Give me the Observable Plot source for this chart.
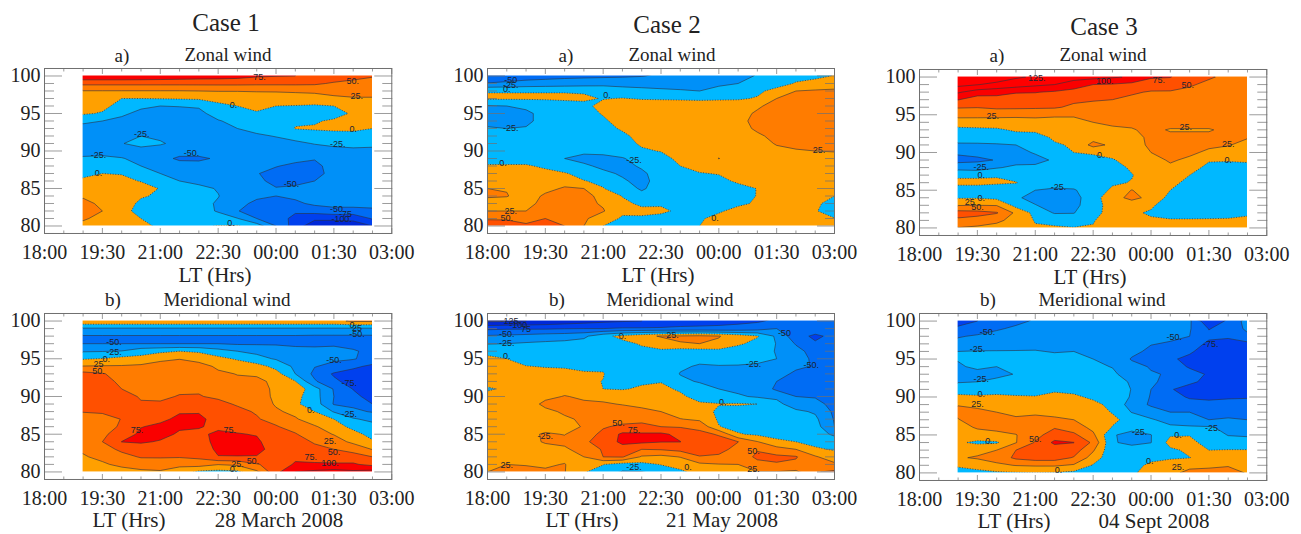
<!DOCTYPE html>
<html><head><meta charset="utf-8">
<script src="https://cdn.jsdelivr.net/npm/d3@7"></script>
<script src="https://cdn.jsdelivr.net/npm/@observablehq/plot@0.6"></script>
<style>
html,body{margin:0;padding:0;background:#fff;}
#page{position:relative;width:1301px;height:534px;overflow:hidden;font-family:"Liberation Serif",serif;color:#222;}
#page>div.t{position:absolute;transform:translate(-50%,-50%);white-space:nowrap;}
#page>div.p{position:absolute;}
svg{display:block;}
</style></head><body><div id="page"></div>
<script>
// altitude rows run 100 -> 80 km; columns every 30 min
const levels = [-200,-125,-100,-75,-50,-25,0,25,50,75,100,125];
const levelColors = ["#0018b0","#0028d8","#0040ee","#006cf4","#0090f8","#00b8ff","#ffa000","#ff7c00","#ff5000","#fa0000","#ff0000","#ff0000"];
const tickHours = [18,19.5,21,22.5,24,25.5,27];
const tickLabels = ["18:00","19:30","21:00","22:30","00:00","01:30","03:00"];
const altTicks = [80,85,90,95,100];

const case1Zonal = [
95,95,95,94,92,90,88,87,84,78,76,75,70,65,58,52,
56,56,56,56,56,56,56,56,56,55,55,55,54,47,43,40,
24,24,24,24,24,24,25,26,26,27,27,28,29,30,30,30,
18,15,0,0,1,2,3,4,6,8,12,14,16,22,24,24,
12,6,-8,-20,-25,-24,-22,-3,0,5,0,-1,-3,0,8,12,
3,-2,-20,-32,-34,-34,-32,-14,-8,-2,-8,-8,-10,-8,3,10,
-22,-25,-32,-33,-33,-33,-32,-27,-17,-10,-12,-3,-2,3,5,6,
-30,-32,-32,-30,-33,-33,-33,-33,-25,-19,-17,1,2,3,3,0,
-33,-33,-32,-25,-30,-33,-33,-34,-32,-28,-24,-18,-8,-6,-5,-10,
-36,-36,-26,-18,-22,-33,-35,-36,-38,-38,-32,-29,-24,-20,-18,-18,
-33,-30,-33,-33,-38,-40,-40,-42,-40,-40,-38,-36,-34,-32,-30,-32,
-22,-22,-24,-30,-42,-54,-54,-47,-42,-42,-44,-45,-49,-42,-36,-36,
-12,-10,-12,-25,-32,-40,-42,-42,-42,-44,-49,-54,-54,-44,-38,-38,
-5,0,-1,-12,-25,-36,-36,-36,-40,-49,-56,-58,-56,-44,-40,-40,
4,6,5,-1,-15,-25,-32,-32,-38,-46,-55,-56,-50,-43,-40,-40,
10,10,8,8,-1,-18,-18,-27,-40,-42,-49,-46,-44,-42,-40,-40,
22,12,10,2,-3,-14,-16,-24,-40,-45,-50,-45,-40,-38,-38,-38,
32,20,10,-4,-10,-14,-16,-28,-42,-56,-58,-55,-45,-42,-42,-42,
36,25,8,-8,-12,-15,-16,-27,-49,-60,-62,-70,-65,-58,-58,-55,
28,18,6,0,-10,-12,-12,-15,-24,-50,-58,-85,-95,-95,-95,-72,
18,12,10,6,-4,-8,-3,1,2,-12,-50,-88,-115,-115,-110,-100];

const case2Zonal = [
-62,-62,-60,-58,-56,-55,-54,-53,-51,-46,-42,-38,-34,-29,-24,-14,-8,-4,1,
-49,-46,-42,-40,-38,-36,-35,-34,-34,-34,-34,-32,-29,-25,-18,-10,2,6,10,
-1,-1,-1,-1,-1,-2,-3,-14,-18,-21,-23,-25,-18,-12,-5,8,25,28,30,
3,3,3,3,3,3,-1,1,-2,-3,-4,-5,-4,-3,2,25,32,32,32,
-27,-25,-22,-15,-8,-5,6,12,14,15,15,15,15,14,23,30,33,33,33,
-34,-32,-28,-20,-15,-10,2,14,18,18,18,18,18,20,27,32,34,34,34,
-34,-32,-28,-20,-15,-12,-4,10,14,18,18,18,18,20,30,32,34,34,34,
-22,-25,-24,-18,-15,-12,-8,3,12,15,18,18,18,18,28,32,34,34,34,
-18,-18,-18,-15,-12,-10,-8,-5,8,12,16,18,18,18,22,30,32,32,32,
-15,-15,-15,-14,-12,-10,-10,-8,3,8,14,16,18,18,20,26,28,28,30,
-12,-12,-12,-15,-18,-20,-20,-12,-3,1,10,14,18,16,18,22,24,25,26,
-8,-8,-8,-14,-25,-32,-30,-27,-14,-8,6,14,25.5,14,16,18,18,18,18,
2,2,2,-3,-14,-21,-30,-32,-22,-12,0,6,8,10,12,14,14,14,14,
8,8,8,5,2,-8,-20,-28,-29,-15,-6,-1,1,6,8,10,10,10,10,
12,14,14,16,18,1,-5,-22,-32,-15,-10,-6,-5,3,6,8,8,8,8,
25,24,16,20,27,25,1,-14,-28,-15,-10,-8,-8,-6,0.5,6,6,6,6,
27,26,16,28,32,30,20,-1,-18,-10,-8,-7,-7,-5,0.5,5,5,5,0,
18,16,18,32,34,32,22,5,-4,-2,-5,-6,-5,-3,2,4,4,4,-8,
25,25,25,36,36,33,27,3,5,3,-3,-5,-2,5,5,5,4,2,-12,
48,48,40,50,40,30,8,-2,-3,-5,-5,-2,5,6,6,6,6,5,1,
60,58,55,55,50,25,0,-8,-8,-8,-4,0,6,7,7,7,7,7,6];

const case3Zonal = [
150,150,140,128,122,120,112,108,103,97,78,76,60,52,46,42,
132,126,118,112,105,100,85,75,73,68,62,60,52,46,44,42,
103,88,84,77,76,72,68,60,55,53,48,48,46,44,42,40,
76,62,65,62,64,60,55,52,50,45,42,42,42,42,40,38,
52,51,55,55,54,53,45,42,40,38,36,36,36,36,36,36,
34,33,32,30,30,28,28,27,32,33,33,33,33,33,33,33,
12,13,14,16,18,18,18,25,27,28,30,30,30,30,30,30,
-6,-5,-4,4,5,8,10,15,23,24,28,24,24,24,28,28,
-16,-15,-14,-12,-10,4,6,15,18,20,28,28,28,28,28,26,
-28,-28,-27,-25,-22,-3,3,33,20,18,28,30,30,28,26,20,
-46,-44,-36,-32,-23,-14,0,2,8,14,25,30,28,22,18,12,
-58,-54,-49,-34,-32,-22,-8,-5,-2,10,19,27,22,3,2,3,
-35,-38,-27,-20,-20,-18,-12,-10,-8,3,15,22,12,-8,-8,-6,
-3,-3,-1,-8,-14,-14,-13,-12,-10,-1,10,18,0,-18,-15,-15,
4,4,2,1,-12,-12,-15,-14,-3,1,12,8,-8,-20,-22,-20,
-8,-8,-8,-15,-25,-30,-27,-13,4,26,10,0,-14,-20,-22,-20,
-2,-2,-6,-22,-32,-35,-34,-10,15,32,18,-8,-18,-20,-22,-20,
24,25,24,-8,-24,-34,-33,-8,8,10,4,-14,-18,-20,-20,-18,
60,58,52,20,-8,-27,-26,-5,6,4,-3,-12,-12,-10,-8,-3,
45,40,28,20,-2,-5,-10,-1,8,8,3,3,3,3,3,4,
24,20,20,12,3,2,1,1,10,10,10,9,9,9,9,8];

const case1Merid = [
20,20,20,20,20,20,20,20,20,20,20,20,20,20,28,28,
-28,-28,-28,-28,-28,-28,-28,-28,-28,-28,-28,-28,-28,-28,-28,-28,
-52,-52,-52,-52,-52,-52,-52,-52,-52,-52,-52,-52,-53,-53,-53,-53,
-50,-50,-50,-50,-50,-50,-50,-50,-53,-53,-53,-53,-53,-53,-56,-58,
-27,-26,-24,-10,-5,0,-3,-15,-25,-30,-36,-45,-46,-44,-48,-55,
-2,1,8,8,20,24,15,7,-3,-18,-27,-38,-44,-47,-48,-60,
26,27,27,30,34,38,36,20,14,10,-8,-30,-49,-55,-70,-80,
58,52,40,38,38,40,40,30,24,22,10,-25,-56,-78,-85,-95,
62,60,44,42,42,44,44,38,30,30,20,1,-47,-70,-85,-95,
58,60,50,45,45,47,48,45,35,35,20,16,-15,-52,-76,-90,
58,60,58,48,47,51,51,47,40,37,20,8,-15,-50,-68,-85,
55,56,60,52,52,56,58,55,48,42,22,4,-12,-52,-55,-75,
51,52,60,58,58,73,74,62,55,48,29,18,0,-27,-45,-52,
40,44,50.5,65,70,80,78,70,65,52,42,28,10,0,-22,-32,
35,38,54,74,80,78,76,72,70,62,52,40,28,10,-6,-15,
33,45,62,80,82,72,72,78,76,74,60,52,34,24,8,-8,
33,50,75.5,78,73,66,68,80,80,78,65,58,48,35,20,3,
28,40,55,62,62,58,60,80,82,80,68,62,55,50,40,24,
23,30,42,52,52,52,55,74,74,74,66,70,60,62,62,50,
16,22,30,36,38,30,36,26,30,48,60,78,80,78,78,68,
10,14,16,20,22,15,-5,-8,-5,20,68,100,105,110,105,110];

const case2Merid = [
-130,-128,-125,-120,-115,-110,-105,-102,-100,-92,-88,-85,-82,-80,-78,-70,-65,-60,-58,
-80,-78,-78,-78,-76,-75,-75,-72,-72,-72,-70,-70,-70,-68,-62,-50,-60,-60,-58,
-47,-45,-42,-38,-36,-30,-8,8,18,27,28,30,26,15,2,-30,-65,-80,-68,
-26,-25,-22,-20,-18,-15,-12,-8,3,12,24,25,22,4,-8,-26,-52,-72,-62,
-8,-10,-14,-14,-12,-12,-12,-16,-7,-4,-12,-10,-8,-12,-18,-26,-42,-60,-55,
6,0,-8,-8,-8,-8,-10,-20,-15,-12,-18,-20,-18,-20,-20,-25,-40,-55,-52,
8,8,0.5,-1,-2,-4,-3,-20,-15,-14,-22,-27,-26,-26,-28,-32,-45,-52,-50,
8,10,8,6,6,2,1,-15,-10,-8,-26,-30,-30,-30,-34,-40,-55,-58,-60,
8,12,10,10,14,4,-0.5,-8,-4,-1,-20,-27,-30,-34,-38,-50,-60,-60,-60,
-3,4,12,14,18,12,0,-2,4,5,-3,-15,-25,-30,-32,-55,-56,-58,-60,
8,10,14,20,26,22,20,18,12,14,4,-8,-12,-22,-28,-30,-50,-52,-60,
10,12,14,30,30,28,27,24,22,18,8,3,1,2,0,-18,-38,-42,-58,
12,14,16,20,28,32,34,33,28,25,12,10,-4,-8,-12,-12,-20,-28,-55,
12,14,16,14,22,28,42,42,40,35,26,20,-3,-8,-10,-10,-14,-20,-52,
12,14,16,15,16,27,48,54,60,50,48,44,1,-7,-8,-9,-12,-15,-50,
12,14,18,28,24,40,55,80,78,80,68,56,48,2,-4,-8,-10,-12,-30,
12,14,18,27,32,45,62,80,80,76,75.5,60,58,50.5,26,5,0,-6,-10,
12,14,16,18,20,38,52,66,50,52,58,58,58,42,48,35,25,3,-2,
12,14,16,16,18,25,50,52,22,18,26,49,46,35,55,55,52,28,10,
16,25,24,22,26,10,0.5,-10,-7,1,8,20,24,25,42,48,45,30,30,
25,34,30,28,26,1,-6,-27,-26,-14,-4,8,10,14,24,24,20,48,55];

const case3Merid = [
-85,-75,-60,-54,-48,-45,-42,-42,-42,-44,-44,-44,-46,-95,-70,-40,
-70,-62,-52,-47,-46,-42,-40,-40,-40,-42,-44,-44,-48,-76,-66,-45,
-52,-47,-44,-40,-38,-36,-35,-36,-38,-42,-48,-46,-50,-70,-73,-55,
-42,-36,-34,-32,-30,-30,-30,-34,-36,-42,-49,-52,-62,-80,-80,-82,
-25,-24,-24,-24,-24,-26,-25,-30,-34,-44,-55,-58,-72,-85,-88,-88,
-24,-18,-18,-18,-18,-20,-22,-25,-30,-52,-55,-72,-80,-85,-90,-92,
-27,-22,-25,-18,-16,-17,-18,-20,-26,-42,-52,-60,-78,-85,-88,-90,
-32,-30,-30,-24,-18,-15,-15,-16,-20,-38,-48,-52,-65,-78,-80,-88,
-27,-25,-20,-18,-14,-12,-12,-12,-14,-28,-46,-58,-70,-82,-85,-88,
-10,-10,-8,-8,-7,-4,-3,-5,-8,-26,-50,-73,-85,-90,-90,-90,
5,3,4,2,1,7,2,-2,-5,-28,-52,-65,-78,-80,-78,-77,
24,20,14,10,10,12,8,3,-3,-38,-53,-58,-65,-68,-66,-66,
30,30,25,18,22,20,15,8,-1,-26,-40,-50,-50,-55,-56,-58,
24,34,34,30,30,28,25,14,4,-7,-22,-35,-38,-50,-48,-50,
15,28,30,36,38,48,38,18,-1,-18,-15,-20,-22,-22,-32,-38,
8,14,20,24,42,62,55,30,-23,-32,-25.5,-2,-1,-12,-26,-28,
3,-4,-3,24,52,80,75.5,45,-23,-30,-25.5,8,6,-8,-15,-15,
14,16,25,50,60,60,62,28,-20,-16,-12,-4,4,0,1,1,
22,28,35,55,62,62,48,14,-18,-10,-4,-3,-0.5,8,10,12,
2,8,20,26,28,28,22,-2,-12,-5,3,12,20,22,24,18,
-6,-6,-4,-2,-1,-2,-6,-8,-10,-3,8,20,30,30,30,24];

// contour labels: [hour, altitude, text]
const case1ZonalLabels = [[23.57,99.8,"75."],[25.99,99.3,"50."],[26.09,97.3,"25."],[22.9,96.1,"0."],[26,92.9,"0."],[25.6,90.9,"-25."],[20.52,92.2,"-25."],[21.81,89.7,"-50."],[19.4,89.4,"-25."],[19.4,87.1,"0."],[24.4,85.6,"-50."],[25.6,82.3,"-50."],[25.8,81.6,"-75"],[25.7,80.9,"-100."],[22.83,80.4,"0."]];
const case2ZonalLabels = [[18.6,99.5,"-50"],[18.6,98.8,"-25."],[18.5,98.2,"0."],[21.1,97.5,"0."],[18.6,93,"-25."],[26.6,90.1,"25."],[21.8,88.8,"-25."],[18.4,88.4,"0."],[18.6,82,"25."],[18.5,81,"50."],[23.9,81.1,"0."]];
const case3ZonalLabels = [[21.04,99.8,"125."],[22.8,99.5,"100."],[24.2,99.6,"75."],[24.95,98.9,"50."],[19.9,94.8,"25."],[24.9,93.3,"25."],[26,91.1,"25."],[22.7,89.6,"0."],[26,89,"0."],[19.6,88,"-25."],[19.6,87,"0."],[21.6,85.4,"-25."],[19.6,84,"0."],[19.3,83.4,"25"],[19.5,82.7,"50."]];
const case1MeridLabels = [[26,99.5,"0."],[26.1,99,"25"],[26.1,98.3,"-50."],[19.8,97.2,"-50."],[19.8,95.9,"-25."],[19.6,94.9,"0."],[19.4,94.3,"25"],[19.4,93.4,"50."],[25.5,94.8,"-50."],[25.9,91.8,"-75."],[24.9,88.2,"0."],[25.9,87.7,"-25."],[20.4,85.5,"75."],[22.8,85.5,"75."],[25.4,84.1,"25."],[25.5,82.6,"50."],[24.9,82,"75."],[25.4,81.2,"100."],[23.4,81.5,"50."],[23,81.1,"25."],[22.9,80.4,"0."]];
const case2MeridLabels = [[18.6,100,"-125."],[18.8,99.5,"-100"],[19,98.9,"75"],[18.5,98.3,"-50."],[18.5,97.1,"-25."],[18.5,95.4,"0."],[21.5,98,"0."],[22.8,98.1,"25."],[25.7,98.4,"-50"],[26.4,94.1,"-50."],[24.9,94.3,"-25."],[24.1,89.2,"0."],[21.4,86.5,"50."],[21.8,85.5,"75."],[19.5,84.7,"-25."],[24.9,82.8,"50."],[18.5,80.9,"25."],[21.8,80.7,"-25."],[23.2,80.6,"0."],[24.9,80.4,"25."]];
const case3MeridLabels = [[19.76,98.5,"-50."],[19.5,96.3,"-25."],[19.6,92.3,"-25."],[19.6,90.4,"0."],[19.5,89.1,"25."],[19.8,84.2,"0."],[21,84.4,"50."],[21.6,80.4,"0."],[24.6,97.9,"-50."],[25.55,97,"-75."],[23.7,85.4,"-25."],[24.7,85,"0."],[25.6,85.9,"-25."],[23.97,81.6,"0."],[24.7,80.8,"25."]];

const axisColor = "#707070";
const labelFont = "Liberation Serif";

function panel(cfg){
  const {values, labels, t0, t1, left, top, frameW, frameH} = cfg;
  const cols = Math.round((t1 - t0) * 2) + 1, rows = 21;
  const mL = 45, mR = 32, mT = 2, mB = 32;
  const sx = [t0 - 0.25, t1 + 0.25];
  const lineLevels = levels.filter(l => l !== 0 && l !== -200);
  const base = {width: cols, height: rows, value: Plot.identity,
    x1: sx[0], x2: sx[1], y1: 100.5, y2: 79.5, clip: true};
  const masks = [
    {x1: 18, x2: 27, y1: 100, y2: 101},
    {x1: 18, x2: 27, y1: 79, y2: 80},
    {x1: 18, x2: t0, y1: 79, y2: 101},
    {x1: t1, x2: 27, y1: 79, y2: 101}
  ].filter(d => d.x2 > d.x1);
  const minorY = d3.range(79, 102).filter(v => v % 5 !== 0);
  const minorX = d3.range(18, 27.01, 0.5).filter(v => !tickHours.includes(v));
  const yTicks = (ticks, size, anchor) => Plot.axisY({anchor, ticks, tickSize: -size, fill: "none", label: null, stroke: axisColor, strokeWidth: 0.7});
  const xTicks = (ticks, size, anchor) => Plot.axisX({anchor, ticks, tickSize: -size, fill: "none", label: null, stroke: axisColor, strokeWidth: 0.7});
  const plot = Plot.plot({
    width: frameW + mL + mR, height: frameH + mT + mB,
    marginLeft: mL, marginRight: mR, marginTop: mT, marginBottom: mB,
    x: {domain: [18, 27]}, y: {domain: [79, 101]},
    color: {type: "ordinal", domain: levels, range: levelColors},
    style: {background: "transparent", overflow: "visible"},
    marks: [
      Plot.contour(values, {...base, thresholds: levels, fill: "value", stroke: "none"}),
      Plot.contour(values, {...base, thresholds: lineLevels, fill: "none", stroke: "#2b3340", strokeWidth: 0.6}),
      Plot.contour(values, {...base, thresholds: [0], fill: "none", stroke: "#3a4450", strokeWidth: 0.9, strokeDasharray: "1 1.6"}),
      Plot.rect(masks, {x1: "x1", x2: "x2", y1: "y1", y2: "y2", fill: "white"}),
      Plot.text(labels, {x: d => d[0], y: d => d[1], text: d => d[2], fontSize: 9, fontFamily: "Liberation Sans", fill: "#1c2430"}),
      Plot.frame({stroke: axisColor, strokeWidth: 1}),
      yTicks(altTicks, 18, "left"), yTicks(altTicks, 18, "right"),
      yTicks(minorY, 10, "left"), yTicks(minorY, 10, "right"),
      xTicks(tickHours, 5, "bottom"), xTicks(tickHours, 5, "top"),
      xTicks(minorX, 2.5, "bottom"), xTicks(minorX, 2.5, "top"),
      Plot.axisY({anchor: "left", ticks: altTicks, tickSize: 0, tickPadding: 4, fontSize: 20, fontFamily: labelFont, fill: "#222", label: null}),
      Plot.axisX({anchor: "bottom", ticks: tickHours, tickSize: 0, tickPadding: 11.5, fontSize: 20, fontFamily: labelFont, fill: "#222", label: null,
        tickFormat: d => tickLabels[tickHours.indexOf(d)]})
    ]
  });
  const holder = document.createElement("div");
  holder.className = "p";
  holder.style.left = (left - mL) + "px";
  holder.style.top = (top - mT) + "px";
  holder.appendChild(plot);
  page.appendChild(holder);
}

const page = document.getElementById("page");
function txt(s, x, y, size){
  const d = document.createElement("div");
  d.className = "t"; d.textContent = s;
  d.style.left = x + "px"; d.style.top = y + "px"; d.style.fontSize = size + "px";
  page.appendChild(d);
}

panel({values: case1Zonal, labels: case1ZonalLabels, t0: 19, t1: 26.5, left: 43.7, top: 68.3, frameW: 347.3, frameH: 165});
panel({values: case2Zonal, labels: case2ZonalLabels, t0: 18, t1: 27, left: 487.3, top: 68.3, frameW: 347, frameH: 165});
panel({values: case3Zonal, labels: case3ZonalLabels, t0: 19, t1: 26.5, left: 918.7, top: 69, frameW: 347.3, frameH: 166});
panel({values: case1Merid, labels: case1MeridLabels, t0: 19, t1: 26.5, left: 43.7, top: 312.7, frameW: 347.3, frameH: 166});
panel({values: case2Merid, labels: case2MeridLabels, t0: 18, t1: 27, left: 487.3, top: 312.7, frameW: 347, frameH: 166});
panel({values: case3Merid, labels: case3MeridLabels, t0: 19, t1: 26.5, left: 918.7, top: 313, frameW: 347.3, frameH: 167});

[["Case 1",226,23],["Case 2",667,25],["Case 3",1104,27]].forEach(a => txt(a[0], a[1], a[2], 25));
[["a)",122],["a)",566],["a)",997]].forEach(a => txt(a[0], a[1], 56, 19));
[[228],[672],[1103]].forEach(a => txt("Zonal wind", a[0], 55, 19));
[[215,275],[658,275],[1090,277]].forEach(a => txt("LT (Hrs)", a[0], a[1], 21));
[["b)",113],["b)",557],["b)",988]].forEach(a => txt(a[0], a[1], 300, 19));
[[227],[670],[1102]].forEach(a => txt("Meridional wind", a[0], 300, 19));
[[129,520],[582,520],[1014,521]].forEach(a => txt("LT (Hrs)", a[0], a[1], 21));
[["28 March 2008",279,520],["21 May 2008",722,520],["04 Sept 2008",1154,521]].forEach(a => txt(a[0], a[1], a[2], 21));
</script></body></html>
